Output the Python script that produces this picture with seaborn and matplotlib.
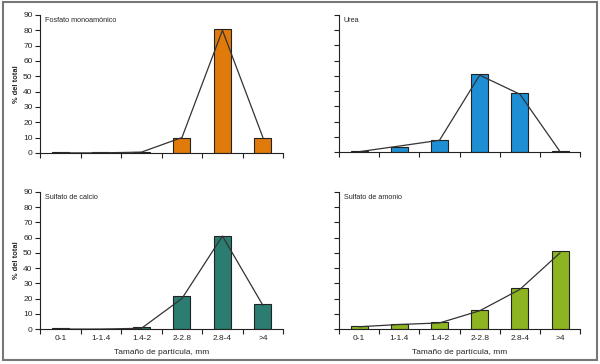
import matplotlib
matplotlib.use("Agg")
import matplotlib.pyplot as plt
import matplotlib.patches as mpatches
import numpy as np
import pandas as pd
import seaborn as sns

# Data
SIZES = ["0-1", "1-1.4", "1.4-2", "2-2.8", "2.8-4", ">4"]

fosfato_bars = [0.3, 0.3, 0.5, 10, 81, 10]
fosfato_line = [0, 0, 0.5, 10, 80, 10]

urea_bars = [0.5, 3.5, 7.8, 51, 38.5, 1]
urea_line = [0.3, 4, 7.8, 50.5, 38, 0.3]

calcio_bars = [0.5, 0.3, 1.5, 22, 61, 16.5]
calcio_line = [0, 0, 0.5, 20, 61, 15.5]

amonio_bars = [1.8, 3.6, 4.6, 12.5, 27, 51]
amonio_line = [1.5, 3, 4, 12, 26, 50]

PANELS = [
    ("Fosfato monoamónico", fosfato_bars, fosfato_line, "#E07B0B"),
    ("Urea", urea_bars, urea_line, "#1E8FD5"),
    ("Sulfato de calcio", calcio_bars, calcio_line, "#2A7D70"),
    ("Sulfato de amonio", amonio_bars, amonio_line, "#8DB521"),
]

YTICKS = [0, 10, 20, 30, 40, 50, 60, 70, 80, 90]

sns.set_style("white")
plt.rcParams["font.family"] = ["Liberation Sans", "DejaVu Sans"]

fig = plt.figure(figsize=(6, 3.64), dpi=100)
fig.patch.set_facecolor("white")

# axes rectangles [left, bottom, width, height] in figure fractions
boxes = [
    [0.067, 0.580, 0.405, 0.379],
    [0.565, 0.582, 0.402, 0.377],
    [0.067, 0.096, 0.405, 0.377],
    [0.565, 0.096, 0.402, 0.377],
]

for i, ((name, bars, line, color), box) in enumerate(zip(PANELS, boxes)):
    ax = fig.add_axes(box)
    df = pd.DataFrame({"size": SIZES, "pct": bars})
    sns.barplot(data=df, x="size", y="pct", color=color, saturation=1,
                width=0.42, edgecolor="#222222", linewidth=0.8, ax=ax)
    ax.plot(np.arange(len(SIZES)), line, color="#333333", linewidth=0.9)

    ax.set_xlim(-0.5, len(SIZES) - 0.5)
    ax.set_ylim(0, 90)
    ax.set_yticks(YTICKS)
    for side in ("top", "right"):
        ax.spines[side].set_visible(False)
    for side in ("left", "bottom"):
        ax.spines[side].set_color("#222222")
        ax.spines[side].set_linewidth(0.8)

    ax.tick_params(axis="y", direction="out", length=3.5, width=0.8,
                   color="#222222", labelsize=6, pad=2, left=True)
    # x ticks at the category boundaries, labels centred under the bars
    ax.set_xticks(np.arange(-0.5, len(SIZES)), minor=True)
    ax.tick_params(axis="x", which="minor", direction="out", length=3.5,
                   width=0.8, color="#222222", bottom=True)
    ax.tick_params(axis="x", which="major", length=0, labelsize=6, pad=4.5)

    ax.text(0.02, 0.985, name, transform=ax.transAxes, fontsize=5.2,
            ha="left", va="top")

    if i % 2 == 0:
        ax.set_ylabel("% del total", fontsize=5.4, fontweight="bold", labelpad=2)
    else:
        ax.set_ylabel("")
        ax.set_yticklabels([])

    if i >= 2:
        ax.set_xlabel("Tamaño de partícula, mm", fontsize=6, labelpad=4.5)
    else:
        ax.set_xlabel("")
        ax.set_xticklabels([])

# gray frame around the whole figure
fig.patches.append(mpatches.Rectangle((0.005, 0.011), 0.99, 0.983,
                                      transform=fig.transFigure, fill=False,
                                      edgecolor="#777777", linewidth=1.5))

fig.savefig("out.png", dpi=100, facecolor="white")
plt.close(fig)
